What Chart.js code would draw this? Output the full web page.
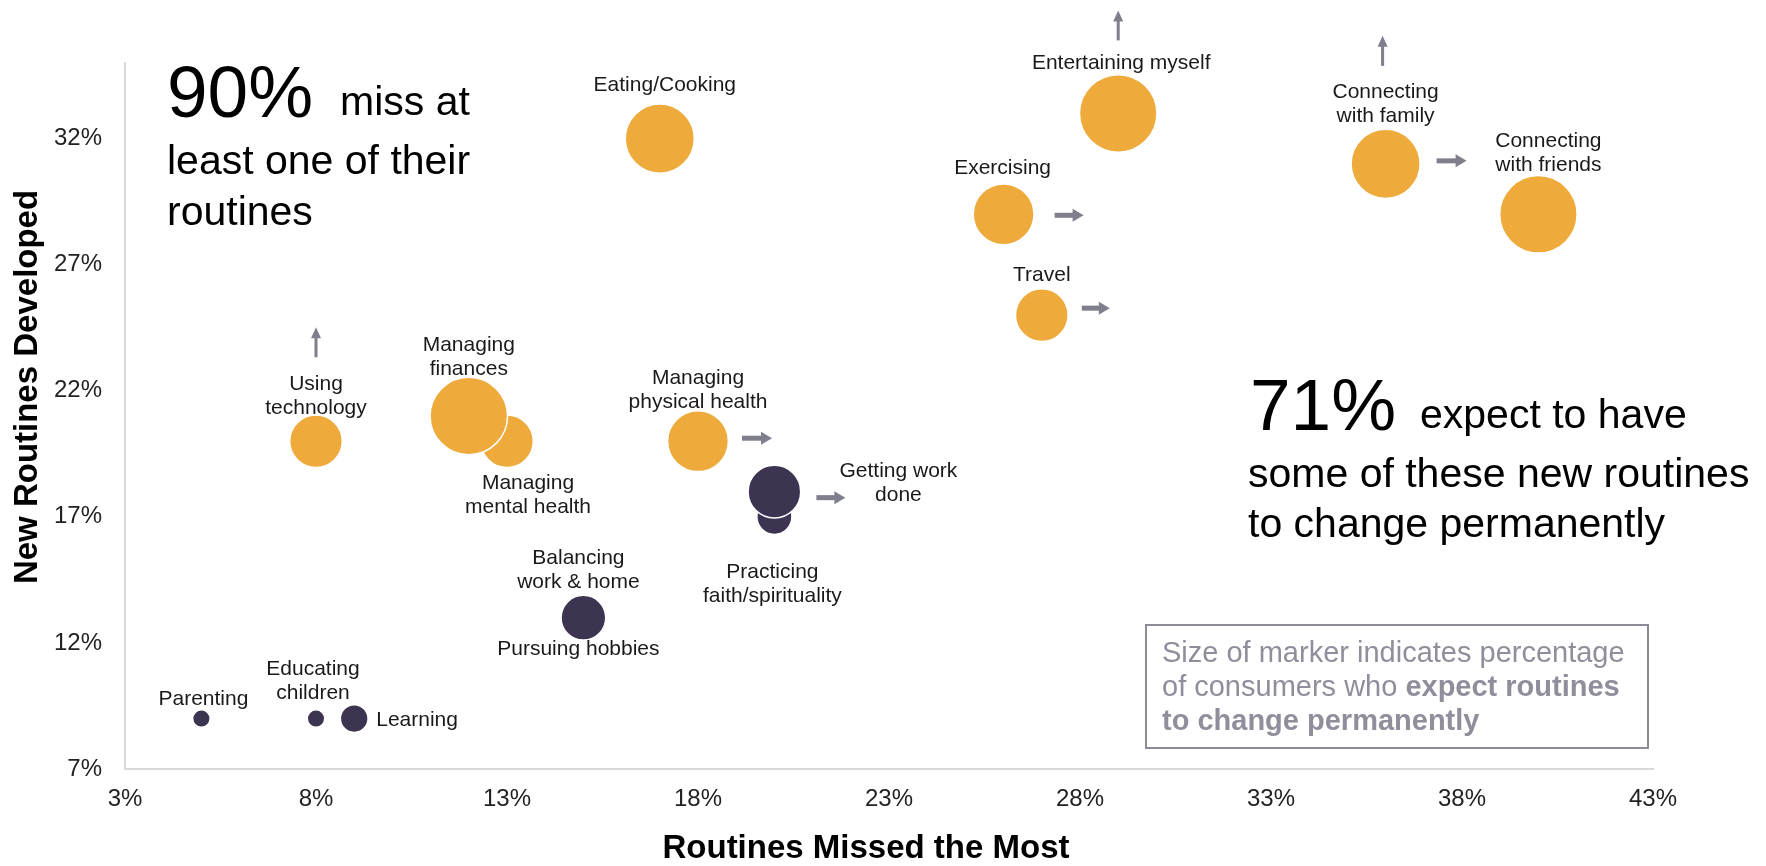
<!DOCTYPE html>
<html>
<head>
<meta charset="utf-8">
<title>Routines</title>
<script src="https://cdn.jsdelivr.net/npm/chart.js@4.4.1/dist/chart.umd.min.js"></script>
<style>
  html, body { margin: 0; padding: 0; background: #fff; }
  #wrap { width: 1766px; height: 866px; }
</style>
</head>
<body>
<div id="wrap"><canvas id="routineChart" width="1766" height="866"></canvas></div>
<script>
// routines, % who missed it most, % who developed a new routine, % expecting a permanent change
var routines = ['Eating/Cooking', 'Entertaining myself', 'Exercising', 'Travel',
  'Connecting\nwith family', 'Connecting\nwith friends', 'Using\ntechnology',
  'Managing\nmental health', 'Managing\nfinances', 'Managing\nphysical health',
  'Practicing\nfaith/spirituality', 'Getting work\ndone', 'Balancing\nwork & home',
  'Pursuing hobbies', 'Parenting', 'Educating\nchildren', 'Learning'];
var missedMost      = [17, 29, 26, 27, 36, 40,  8, 13, 12, 18, 20, 20, 15, 15, 5, 8, 9];
var newDeveloped    = [32, 33, 29, 25, 31, 29, 20, 20, 21, 20, 17, 18, 13, 13, 9, 9, 9];
var expectPermanent = [31, 39, 24, 18, 31, 39, 18, 18, 39, 24,  8, 18, 13, 13, 2, 2, 5];
var routineGroup    = ['high', 'high', 'high', 'high', 'high', 'high', 'high', 'high', 'high', 'high',
  'low', 'low', 'low', 'low', 'low', 'low', 'low'];

var xTicks = [3, 8, 13, 18, 23, 28, 33, 38, 43];
var yTicks = [7, 12, 17, 22, 27, 32];

var FONT = "'Liberation Sans', Arial, sans-serif";
var ORANGE = '#EEAA3B';
var NAVY = '#3D3452';
var ARROW = '#7F7E8C';

// where each bubble's caption sits, in px from the bubble centre (first baseline)
var labelSpots = [
  {dx: 5, dy: -48}, {dx: 3, dy: -44}, {dx: -1, dy: -40}, {dx: 0, dy: -34},
  {dx: 0, dy: -66}, {dx: 10, dy: -67}, {dx: 0, dy: -51},
  {dx: 21, dy: 48}, {dx: 0, dy: -65}, {dx: 0, dy: -57},
  {dx: -2, dy: 61}, {dx: 124, dy: -15}, {dx: -5, dy: -54},
  {dx: -5, dy: 37}, {dx: 2, dy: -14}, {dx: -3, dy: -44},
  {dx: 22, dy: 7, align: 'left'}
];

// trend arrows next to some bubbles
var arrows = [
  {i: 1, dir: 'up', off: 0, from: -73, to: -103},
  {i: 4, dir: 'up', off: -3, from: -98, to: -128},
  {i: 6, dir: 'up', off: 0, from: -84, to: -114},
  {i: 2, dir: 'right', off: 1, from: 51, to: 80},
  {i: 3, dir: 'right', off: -7, from: 40, to: 68},
  {i: 4, dir: 'right', off: -3, from: 51, to: 81},
  {i: 9, dir: 'right', off: -3, from: 44, to: 74},
  {i: 11, dir: 'right', off: 6, from: 42, to: 71}
];

function sizeToRadius(v) {
  return 6.2 * Math.sqrt(v);
}

function buildPoints(group) {
  var pts = [];
  for (var i = 0; i < routines.length; i++) {
    if (routineGroup[i] != group) continue;
    pts.push({x: missedMost[i], y: newDeveloped[i], r: sizeToRadius(expectPermanent[i]), i: i});
  }
  return pts;
}

function drawArrow(ctx, x1, y1, x2, y2, shaft, headLen, headW) {
  var ang = Math.atan2(y2 - y1, x2 - x1);
  var len = Math.hypot(x2 - x1, y2 - y1);
  ctx.save();
  ctx.translate(x1, y1);
  ctx.rotate(ang);
  ctx.fillStyle = ARROW;
  ctx.fillRect(0, -shaft / 2, len - headLen + 1, shaft);
  ctx.beginPath();
  ctx.moveTo(len, 0);
  ctx.lineTo(len - headLen, -headW / 2);
  ctx.lineTo(len - headLen, headW / 2);
  ctx.closePath();
  ctx.fill();
  ctx.restore();
}

// draws a line made of plain and bold pieces
function drawRich(ctx, parts, x, y, size, color) {
  ctx.textAlign = 'left';
  ctx.fillStyle = color;
  parts.forEach(function (p) {
    ctx.font = (p[1] ? 'bold ' : '') + size + 'px ' + FONT;
    ctx.fillText(p[0], x, y);
    x += ctx.measureText(p[0]).width;
  });
}

var notesPlugin = {
  id: 'notes',
  afterDatasetsDraw: function (chart) {
    var ctx = chart.ctx;
    ctx.save();
    var centres = {};
    chart.data.datasets.forEach(function (ds, d) {
      var meta = chart.getDatasetMeta(d);
      meta.data.forEach(function (el, j) {
        centres[ds.data[j].i] = {x: el.x, y: el.y};
      });
    });

    // bubble captions
    ctx.fillStyle = '#1A1A1A';
    ctx.font = '21px ' + FONT;
    ctx.textBaseline = 'alphabetic';
    routines.forEach(function (name, i) {
      var c = centres[i], spot = labelSpots[i];
      ctx.textAlign = spot.align || 'center';
      name.split('\n').forEach(function (ln, k) {
        ctx.fillText(ln, c.x + spot.dx, c.y + spot.dy + k * 24);
      });
    });

    arrows.forEach(function (a) {
      var c = centres[a.i];
      if (a.dir == 'up') {
        drawArrow(ctx, c.x + a.off, c.y + a.from, c.x + a.off, c.y + a.to, 3, 11, 10);
      } else {
        drawArrow(ctx, c.x + a.from, c.y + a.off, c.x + a.to, c.y + a.off, 5, 11, 13);
      }
    });
    ctx.restore();
  },
  afterDraw: function (chart) {
    var ctx = chart.ctx;
    ctx.save();
    ctx.textBaseline = 'alphabetic';

    // headline callouts
    drawRich(ctx, [['90%', false]], 167, 117, 73, '#000');
    drawRich(ctx, [['miss at', false]], 340, 115, 41, '#000');
    drawRich(ctx, [['least one of their', false]], 167, 174, 41, '#000');
    drawRich(ctx, [['routines', false]], 167, 225, 41, '#000');

    drawRich(ctx, [['71%', false]], 1250, 430, 73, '#000');
    drawRich(ctx, [['expect to have', false]], 1420, 428, 41, '#000');
    drawRich(ctx, [['some of these new routines', false]], 1248, 487, 41, '#000');
    drawRich(ctx, [['to change permanently', false]], 1248, 537, 41, '#000');

    // size note box
    ctx.strokeStyle = '#8C8B98';
    ctx.lineWidth = 2;
    ctx.strokeRect(1146, 625, 502, 123);
    var grey = '#8F8E9B';
    drawRich(ctx, [['Size of marker indicates percentage', false]], 1162, 662, 29, grey);
    drawRich(ctx, [['of consumers who ', false], ['expect routines', true]], 1162, 696, 29, grey);
    drawRich(ctx, [['to change permanently', true]], 1162, 730, 29, grey);

    // axis titles
    ctx.fillStyle = '#000';
    ctx.font = 'bold 33px ' + FONT;
    ctx.textAlign = 'center';
    ctx.fillText('Routines Missed the Most', 866, 858);
    ctx.translate(37, 387);
    ctx.rotate(-Math.PI / 2);
    ctx.fillText('New Routines Developed', 0, 0);
    ctx.restore();
  }
};

var tickFont = {family: FONT, size: 24};

var chart = new Chart(document.getElementById('routineChart').getContext('2d'), {
  type: 'bubble',
  data: {
    datasets: [{
      label: 'high',
      data: buildPoints('high'),
      backgroundColor: ORANGE,
      borderColor: '#fff',
      borderWidth: 1.5
    }, {
      label: 'low',
      data: buildPoints('low'),
      backgroundColor: NAVY,
      borderColor: '#fff',
      borderWidth: 1.5
    }]
  },
  options: {
    responsive: false,
    animation: false,
    events: [],
    layout: {padding: {top: 63, right: 113, left: 0, bottom: 0}},
    plugins: {
      legend: {display: false},
      tooltip: {enabled: false}
    },
    scales: {
      x: {
        type: 'linear',
        min: 3,
        max: 43,
        afterBuildTicks: function (axis) { axis.ticks = xTicks.map(function (v) { return {value: v}; }); },
        afterFit: function (axis) { axis.height = 97; },
        grid: {display: false, drawTicks: false},
        border: {color: '#D9D9D9', width: 2},
        ticks: {padding: 16, color: '#222', font: tickFont, callback: function (v) { return v + '%'; }}
      },
      y: {
        type: 'linear',
        min: 7,
        max: 35,
        afterBuildTicks: function (axis) { axis.ticks = yTicks.map(function (v) { return {value: v}; }); },
        afterFit: function (axis) { axis.width = 125; },
        grid: {display: false, drawTicks: false},
        border: {color: '#D9D9D9', width: 2},
        ticks: {padding: 23, color: '#222', font: tickFont, callback: function (v) { return v + '%'; }}
      }
    }
  },
  plugins: [notesPlugin]
});
</script>
</body>
</html>
